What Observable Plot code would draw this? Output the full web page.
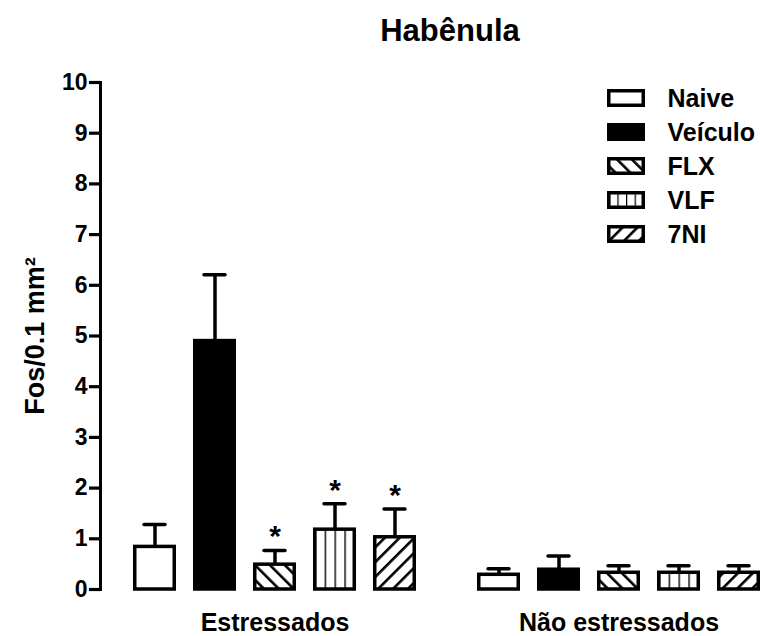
<!DOCTYPE html>
<html>
<head>
<meta charset="utf-8">
<script src="https://cdn.jsdelivr.net/npm/d3@7"></script>
<script src="https://cdn.jsdelivr.net/npm/@observablehq/plot@0.6"></script>
<style>
  body { margin: 0; background: white; }
  #wrap { position: relative; width: 760px; height: 636px; background: white; overflow: hidden; }
  #title { position: absolute; left: 300px; top: 15px; width: 300px; text-align: center;
           font: bold 31px/31px 'Liberation Sans', Arial, sans-serif; color: black; }
  #chart { position: absolute; left: 0; top: 0; }
  #legend { position: absolute; left: 600px; top: 70px; }
</style>
</head>
<body>
<div id="wrap">
  <svg width="0" height="0" style="position:absolute">
    <defs>
      <pattern id="pFLX" patternUnits="userSpaceOnUse" width="10.5" height="10.5" patternTransform="rotate(-45)">
        <rect width="10.5" height="10.5" fill="white"></rect>
        <rect width="2.6" height="10.5" fill="black"></rect>
      </pattern>
      <pattern id="p7NI" patternUnits="userSpaceOnUse" width="10.5" height="10.5" patternTransform="rotate(45)">
        <rect width="10.5" height="10.5" fill="white"></rect>
        <rect width="2.6" height="10.5" fill="black"></rect>
      </pattern>
      <pattern id="pVLF" patternUnits="objectBoundingBox" patternContentUnits="objectBoundingBox" width="0.25" height="1">
        <rect width="0.25" height="1" fill="white"></rect>
        <rect width="0.035" height="1" fill="black"></rect>
      </pattern>
    </defs>
  </svg>
  <div id="chart"></div>
  <div id="title">Habênula</div>
  <div id="legend"></div>
</div>
<script>
const groups = ["Estressados", "Não estressados"];
const treatments = ["Naive", "Veículo", "FLX", "VLF", "7NI"];
const meanStressed = [0.84, 4.90, 0.49, 1.18, 1.03];
const errStressed  = [0.44, 1.31, 0.28, 0.51, 0.56];
const sigStressed  = [false, false, true, true, true];
const meanNon = [0.29, 0.39, 0.33, 0.33, 0.33];
const errNon  = [0.12, 0.27, 0.14, 0.14, 0.14];
const sigNon  = [false, false, false, false, false];
const yTicks = [0, 1, 2, 3, 4, 5, 6, 7, 8, 9, 10];
const yLabel = "Fos/0.1 mm²";
const fills = ["white", "black", "url(#pFLX)", "url(#pVLF)", "url(#p7NI)"];

const rows = [
  ...treatments.map((t, i) => ({group: groups[0], treatment: t, mean: meanStressed[i], err: errStressed[i], sig: sigStressed[i]})),
  ...treatments.map((t, i) => ({group: groups[1], treatment: t, mean: meanNon[i], err: errNon[i], sig: sigNon[i]}))
];
const errTop = d => d.mean + d.err;
const font = "'Liberation Sans', Arial, sans-serif";

const chart = Plot.plot({
  width: 760, height: 636,
  marginTop: 82, marginBottom: 47, marginLeft: 100, marginRight: 0,
  style: {fontFamily: font, fontWeight: "bold", fontSize: "23px", background: "white", color: "black", overflow: "visible"},
  fx: {domain: groups, paddingInner: 0.0814, paddingOuter: 0, axis: null, label: null},
  x: {domain: treatments, paddingInner: 0.29, paddingOuter: 0.2377, align: 1, axis: null, label: null},
  y: {domain: [0, 10], axis: null, label: null},
  color: {type: "ordinal", domain: treatments, range: fills},
  marks: [
    Plot.frame({anchor: "left", facet: "super", stroke: "black", strokeWidth: 3}),
    Plot.axisY(yTicks, {tickSize: 11, tickPadding: 2, tickFormat: d => String(d), fontSize: 23, strokeWidth: 3.2, stroke: "black", label: null}),
    Plot.barY(rows, {fx: "group", x: "treatment", y: "mean", fill: "treatment", stroke: "black", strokeWidth: 3.5, insetLeft: 1.75, insetRight: 1.75}),
    Plot.ruleX(rows, {fx: "group", x: "treatment", y1: "mean", y2: errTop, stroke: "black", strokeWidth: 3.5}),
    Plot.tickY(rows, {fx: "group", x: "treatment", y: errTop, stroke: "black", strokeWidth: 3.5, insetLeft: 11, insetRight: 11, strokeLinecap: "round"}),
    Plot.text(rows.filter(d => d.sig), {fx: "group", x: "treatment", y: errTop, text: () => "*", lineAnchor: "bottom", dy: -4, fontSize: 30, fill: "black"}),
    Plot.text(groups, {fx: d => d, x: () => treatments[2], text: d => d, frameAnchor: "bottom", lineAnchor: "bottom", dy: 41, fontSize: 25, fill: "black"}),
    Plot.text([yLabel], {fx: () => groups[0], text: d => d, frameAnchor: "left", textAnchor: "middle", rotate: -90, dx: -65, fontSize: 27, fill: "black"})
  ]
});
document.getElementById("chart").append(chart);

const legend = Plot.plot({
  width: 160, height: 188,
  marginTop: 9.75, marginBottom: 5.75, marginLeft: 7, marginRight: 115,
  style: {fontFamily: font, fontWeight: "bold", background: "transparent", color: "black", overflow: "visible"},
  x: {axis: null},
  y: {domain: treatments, paddingInner: 0.478, paddingOuter: 0.239, axis: null, label: null},
  color: {type: "ordinal", domain: treatments, range: fills},
  marks: [
    Plot.cell(treatments, {y: d => d, fill: d => d, stroke: "black", strokeWidth: 3.5, inset: 1.75}),
    Plot.text(treatments, {y: d => d, text: d => d, frameAnchor: "right", dx: 22, textAnchor: "start", fontSize: 25, fill: "black"})
  ]
});
document.getElementById("legend").append(legend);
</script>
</body>
</html>
